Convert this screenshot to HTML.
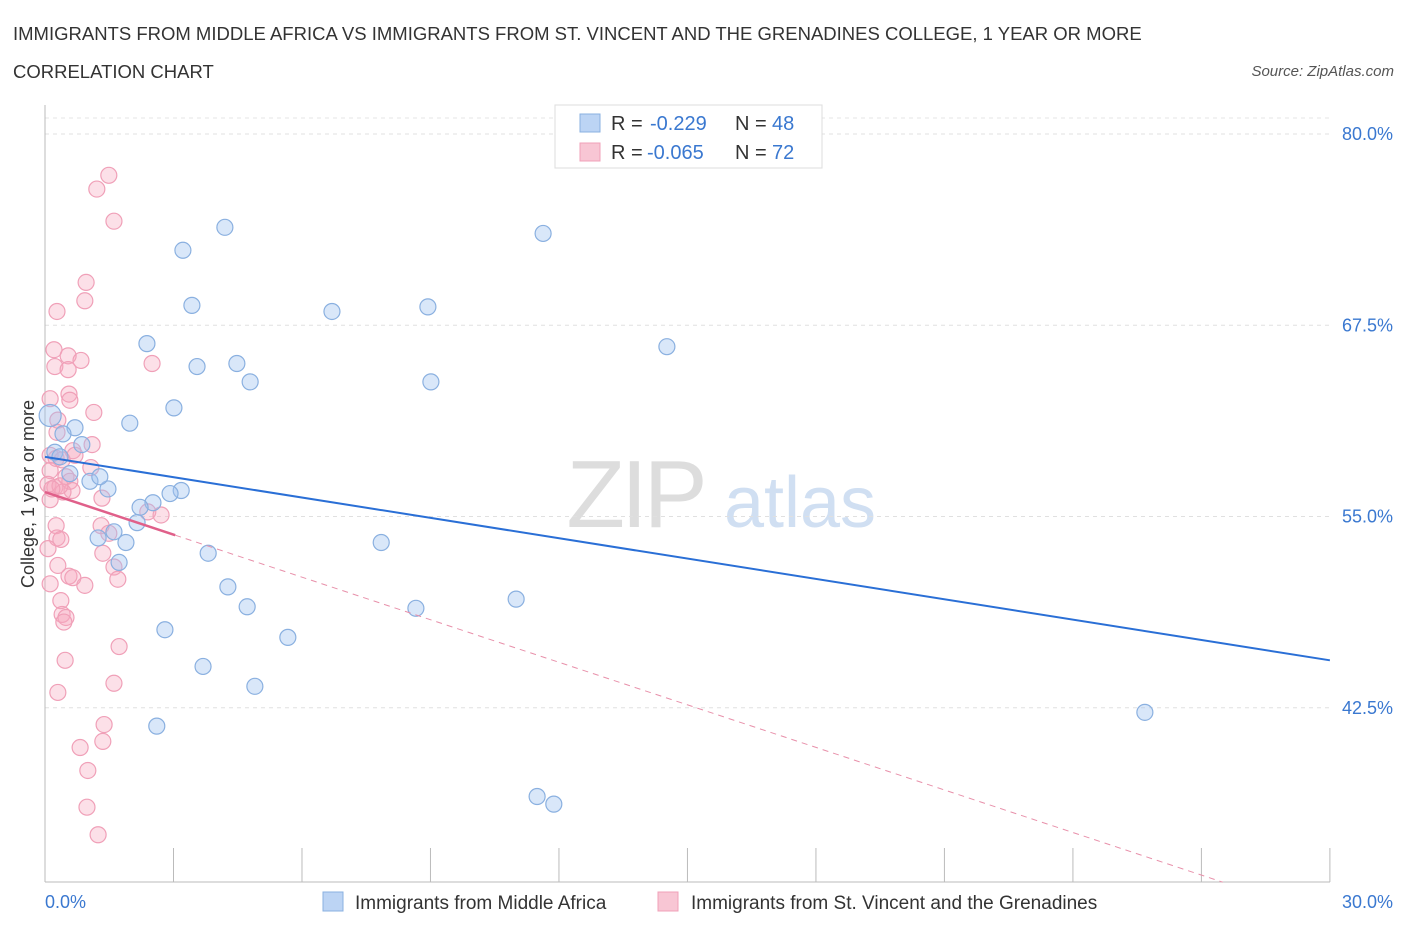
<!DOCTYPE html>
<html><head><meta charset="utf-8">
<style>
body{margin:0;background:#fff;font-family:"Liberation Sans",sans-serif;}
svg text{font-family:"Liberation Sans",sans-serif;}
</style></head>
<body>
<svg id="chart" width="1406" height="930" xmlns="http://www.w3.org/2000/svg">
<text x="13" y="40" font-size="18.5" fill="#333">IMMIGRANTS FROM MIDDLE AFRICA VS IMMIGRANTS FROM ST. VINCENT AND THE GRENADINES COLLEGE, 1 YEAR OR MORE</text>
<text x="13" y="78" font-size="18.5" fill="#333">CORRELATION CHART</text>
<text x="1394" y="76" font-size="15" fill="#555" font-style="italic" text-anchor="end">Source: ZipAtlas.com</text>
<g>
<text x="635" y="527" font-size="96" fill="#ddd" font-family="Liberation Serif" text-anchor="middle" letter-spacing="-4">ZIP</text>
<text x="800" y="527" font-size="72" fill="#d0dff2" text-anchor="middle">atlas</text>
</g>
<g id="grid"></g>
<g id="axes"></g>
<g id="marks"></g>
<text transform="translate(34,494) rotate(-90)" font-size="18" fill="#333" text-anchor="middle">College, 1 year or more</text>
<g>
<rect x="555" y="105" width="267" height="63" fill="#fff" stroke="#ddd"/>
<rect x="580" y="114" width="20" height="18" fill="#bcd4f4" stroke="#8ab0e0"/>
<rect x="580" y="143" width="20" height="18" fill="#f8c6d4" stroke="#f0a0b8"/>
<text y="130" font-size="20" fill="#333"><tspan x="611">R =</tspan><tspan x="650" fill="#3a78d0">-0.229</tspan><tspan x="735">N =</tspan><tspan x="772" fill="#3a78d0">48</tspan></text>
<text y="159" font-size="20" fill="#333"><tspan x="611">R =</tspan><tspan x="647" fill="#3a78d0">-0.065</tspan><tspan x="735">N =</tspan><tspan x="772" fill="#3a78d0">72</tspan></text>
</g>
<g>
<rect x="323" y="892" width="20" height="19" fill="#bcd4f4" stroke="#8ab0e0"/>
<text x="355" y="909" font-size="19" fill="#333">Immigrants from Middle Africa</text>
<rect x="658" y="892" width="20" height="19" fill="#f8c6d4" stroke="#f0a0b8"/>
<text x="691" y="909" font-size="19" fill="#333">Immigrants from St. Vincent and the Grenadines</text>
</g>
</svg>
<script>
const yTicks=[80,67.5,55,42.5];
const yTickLabels=["80.0%","67.5%","55.0%","42.5%"];
const xTickLabels=["0.0%","30.0%"];
const blueX=[4.20,3.22,11.63,3.43,6.70,8.94,2.38,14.52,3.55,4.48,4.79,9.01,3.01,1.98,0.70,0.42,0.86,0.23,0.58,1.05,1.47,3.18,2.92,2.52,2.22,2.15,1.61,1.24,1.89,7.85,3.81,1.73,4.27,4.72,8.66,11.00,2.80,5.67,3.69,4.90,2.61,25.68,11.49,11.88,0.12,0.35,1.28];
const blueY=[73.9,72.4,73.5,68.8,68.4,68.7,66.3,66.1,64.8,65.0,63.8,63.8,62.1,61.1,60.8,60.4,59.7,59.2,57.8,57.3,56.8,56.7,56.5,55.9,55.6,54.6,54.0,53.6,53.3,53.3,52.6,52.0,50.4,49.1,49.0,49.6,47.6,47.1,45.2,43.9,41.3,42.2,36.7,36.2,61.6,58.9,57.6];
const pinkX=[1.49,1.21,1.61,0.96,0.93,0.28,0.21,0.54,0.84,0.23,0.54,2.50,0.56,0.12,0.58,1.14,0.30,0.28,1.10,0.65,0.12,0.26,0.40,1.07,0.12,0.49,0.58,0.07,0.23,0.63,0.42,1.33,0.12,2.40,2.71,1.31,0.26,1.49,0.28,0.37,0.07,1.35,0.30,1.61,0.56,0.65,1.70,0.93,0.12,0.37,0.40,0.49,0.44,1.73,0.47,1.61,0.30,1.38,0.82,1.35,1.00,0.98,1.24,0.35,0.70,0.16];
const pinkY=[77.3,76.4,74.3,70.3,69.1,68.4,65.9,65.5,65.2,64.8,64.6,65.0,63.0,62.7,62.6,61.8,61.3,60.5,59.7,59.3,59.0,58.8,58.7,58.2,58.0,57.6,57.3,57.1,56.9,56.7,56.6,56.2,56.1,55.3,55.1,54.4,54.4,53.9,53.6,53.5,52.9,52.6,51.8,51.7,51.1,51.0,50.9,50.5,50.6,49.5,48.6,48.4,48.1,46.5,45.6,44.1,43.5,41.4,39.9,40.3,38.4,36.0,34.2,57.0,59.0,56.8];
const blueTrend=[[0,58.9],[30,45.6]];
const pinkTrendSolid=[[0,56.6],[3.04,53.78]];
const pinkTrendDash=[[3.04,53.78],[27.5,31.1]];

const X=v=>45+v*42.83, Y=v=>134+(80-v)*15.3;
const NS="http://www.w3.org/2000/svg";
function mk(tag,attrs,parent){const e=document.createElementNS(NS,tag);for(const k in attrs)e.setAttribute(k,attrs[k]);parent.appendChild(e);return e;}
const grid=document.getElementById('grid'),axes=document.getElementById('axes'),marks=document.getElementById('marks');
let g0=mk('line',{x1:45,x2:1330,y1:118,y2:118,stroke:'#e4e4e4','stroke-dasharray':'4,4'},grid);

yTicks.forEach((t,i)=>{
 const l=mk('line',{x1:45,x2:1330,y1:Y(t),y2:Y(t),stroke:'#e0e0e0','stroke-dasharray':'4,4'},grid);
 
 
 const tx=mk('text',{x:1393,y:Y(t)+6,'font-size':18,fill:'#3a78d0','text-anchor':'end'},axes);
 tx.textContent=yTickLabels[i];
 
 
});
const ax=mk('line',{x1:45,x2:45,y1:105,y2:882,stroke:'#bbb'},axes);


const bx=mk('line',{x1:45,x2:1330,y1:882,y2:882,stroke:'#bbb'},axes);


for(let i=0;i<=10;i++){
 const t=mk('line',{x1:X(i*3),x2:X(i*3),y1:848,y2:882,stroke:'#bbb'},axes);
 
 
}
[[0,'start',45],[1,'end',1393]].forEach(([i,a,x])=>{
 const t=mk('text',{x:x,y:908,'font-size':18,fill:'#3a78d0','text-anchor':a},axes);
 t.textContent=xTickLabels[i];
 
 
});
pinkX.forEach((v,i)=>{
 const c=mk('circle',{cx:X(v),cy:Y(pinkY[i]),r:8,fill:'rgba(245,165,190,0.35)',stroke:'#f0a0b8','stroke-width':1.2},marks);
 
 
});
blueX.forEach((v,i)=>{
 const c=mk('circle',{cx:X(v),cy:Y(blueY[i]),r:(i==44?11:8),fill:'rgba(160,196,240,0.4)',stroke:'#8ab0e0','stroke-width':1.2},marks);
 
 
});
function line(p,attrs,name){
 const l=mk('line',Object.assign({x1:X(p[0][0]),y1:Y(p[0][1]),x2:X(p[1][0]),y2:Y(p[1][1])},attrs),marks);
 
 
}
line(pinkTrendDash,{stroke:'#e890aa','stroke-width':1,'stroke-dasharray':'6,5'},'trend-st-vincent-extended');
line(pinkTrendSolid,{stroke:'#e0608a','stroke-width':2.5},'trend-st-vincent');
line(blueTrend,{stroke:'#2a6fd6','stroke-width':2},'trend-middle-africa');
</script>
</body></html>
